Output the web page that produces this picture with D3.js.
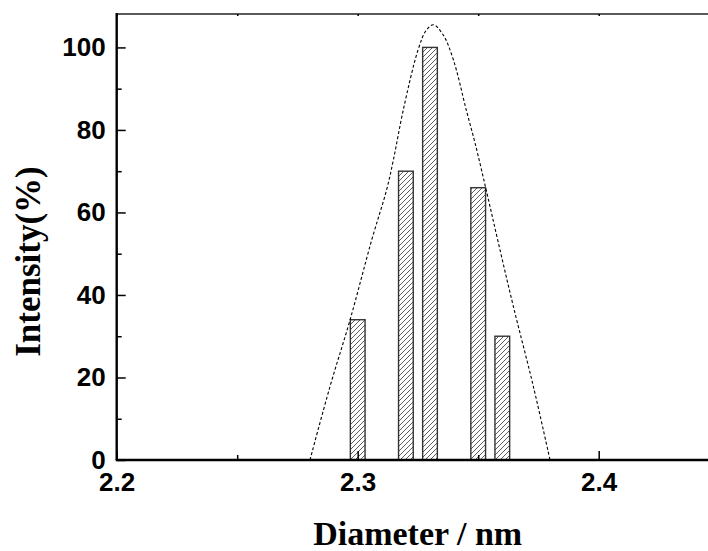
<!DOCTYPE html>
<html><head><meta charset="utf-8">
<script src="https://cdn.jsdelivr.net/npm/d3@7/dist/d3.min.js"></script>
<style>body{margin:0;background:#fff}svg{display:block}</style>
</head><body>
<svg id="chart" width="708" height="551"></svg>
<script>
// ---- data ----
const diameters = [2.30, 2.32, 2.33, 2.35, 2.36];
const intensities = [34, 70, 100, 66, 30];
const fitX = [2.2802, 2.2885, 2.2968, 2.3058, 2.3120, 2.3148, 2.3189, 2.3251, 2.3285, 2.3314, 2.3355, 2.3397, 2.3452, 2.3487, 2.3535, 2.3581, 2.3646, 2.3729, 2.3798];
const fitY = [0, 17.8, 33.9, 53.3, 65.5, 72.7, 84.8, 99.5, 104.2, 105.5, 103.0, 97.0, 84.5, 76.8, 65.0, 53.3, 37.2, 17.8, 0];
const xTicks = [2.2, 2.3, 2.4];
const xMinorTicks = [2.25, 2.35, 2.45];
const yTicks = [0, 20, 40, 60, 80, 100];
const yMinorTicks = [10, 30, 50, 70, 90];
const xTitle = "Diameter / nm";
const yTitle = "Intensity(%)";

const svg = d3.select("#chart");
const L = 116.7, T = 14, B = 460;
const x = d3.scaleLinear().domain([2.2, 2.45]).range([L, L + 2410 * 0.25]);
const y = d3.scaleLinear().domain([0, 108.1]).range([B, T]);

// hatch pattern
const defs = svg.append("defs");
const pat = defs.append("pattern").attr("id", "hatch").attr("patternUnits", "userSpaceOnUse")
  .attr("width", 5).attr("height", 5);
pat.append("path").attr("d", "M-1,6 L6,-1 M-1,1 L1,-1 M4,6 L6,4")
  .attr("stroke", "#333").attr("stroke-width", 0.8).attr("fill", "none");

const barW = x(2.2061) - x(2.2);
svg.append("g").selectAll("rect").data(diameters).join("rect")
  .attr("x", (d) => x(d) - barW / 2)
  .attr("y", (d, i) => y(intensities[i]))
  .attr("width", barW)
  .attr("height", (d, i) => B - y(intensities[i]))
  .attr("fill", "url(#hatch)")
  .attr("stroke", "#333").attr("stroke-width", 1.4);

// fit curve
const pts = fitX.map((d, i) => [d, fitY[i]]);
svg.append("path").datum(pts)
  .attr("d", d3.line().x(d => x(d[0])).y(d => y(d[1])).curve(d3.curveCatmullRom.alpha(0.5)))
  .attr("fill", "none").attr("stroke", "#000").attr("stroke-width", 1.1)
  .attr("stroke-dasharray", "3,2.2");

// axes
const fontTick = "bold 26px 'Liberation Sans', Arial, sans-serif";
const gx = svg.append("g").attr("transform", `translate(0,${B})`)
  .call(d3.axisBottom(x).tickValues(xTicks).tickSize(-9).tickPadding(13).tickFormat(d3.format(".1f")));
gx.select(".domain").attr("stroke", "#000").attr("stroke-width", 2.6).attr("d", `M${L - 1},0H708`);
gx.selectAll(".tick line").attr("stroke", "#000").attr("stroke-width", 1.5);
gx.selectAll("text").style("font", fontTick).attr("fill", "#000");
const gxm = svg.append("g").attr("transform", `translate(0,${B})`)
  .call(d3.axisBottom(x).tickValues(xMinorTicks).tickSize(-5).tickFormat(""));
gxm.select(".domain").remove();
gxm.selectAll(".tick line").attr("stroke", "#000").attr("stroke-width", 1.5);

const gy = svg.append("g").attr("transform", `translate(${L},0)`)
  .call(d3.axisLeft(y).tickValues(yTicks).tickSize(-9).tickPadding(11));
gy.select(".domain").attr("stroke", "#000").attr("stroke-width", 2.4).attr("d", `M0,${B}V${T - 1}`);
gy.selectAll(".tick line").attr("stroke", "#000").attr("stroke-width", 1.5);
gy.selectAll("text").style("font", fontTick).attr("fill", "#000");
const gym = svg.append("g").attr("transform", `translate(${L},0)`)
  .call(d3.axisLeft(y).tickValues(yMinorTicks).tickSize(-5).tickFormat(""));
gym.select(".domain").remove();
gym.selectAll(".tick line").attr("stroke", "#000").attr("stroke-width", 1.5);

// top axis
const gt = svg.append("g").attr("transform", `translate(0,${T})`)
  .call(d3.axisTop(x).tickValues(xTicks.concat(xMinorTicks)).tickSize(-2).tickFormat(""));
gt.select(".domain").attr("stroke", "#222").attr("stroke-width", 1.6).attr("d", `M${L},0H708`);
gt.selectAll(".tick line").attr("stroke", "#000").attr("stroke-width", 1.5);

// titles
const fontTitle = "'Liberation Serif', 'Times New Roman', serif";
svg.append("text").attr("x", 417.7).attr("y", 545).attr("text-anchor", "middle")
  .style("font-family", fontTitle).style("font-weight", "bold").style("font-size", "34px").text(xTitle);
svg.append("text").attr("transform", "translate(40,261.5) rotate(-90)").attr("text-anchor", "middle")
  .style("font-family", fontTitle).style("font-weight", "bold").style("font-size", "35px").text(yTitle);
</script>
</body></html>
